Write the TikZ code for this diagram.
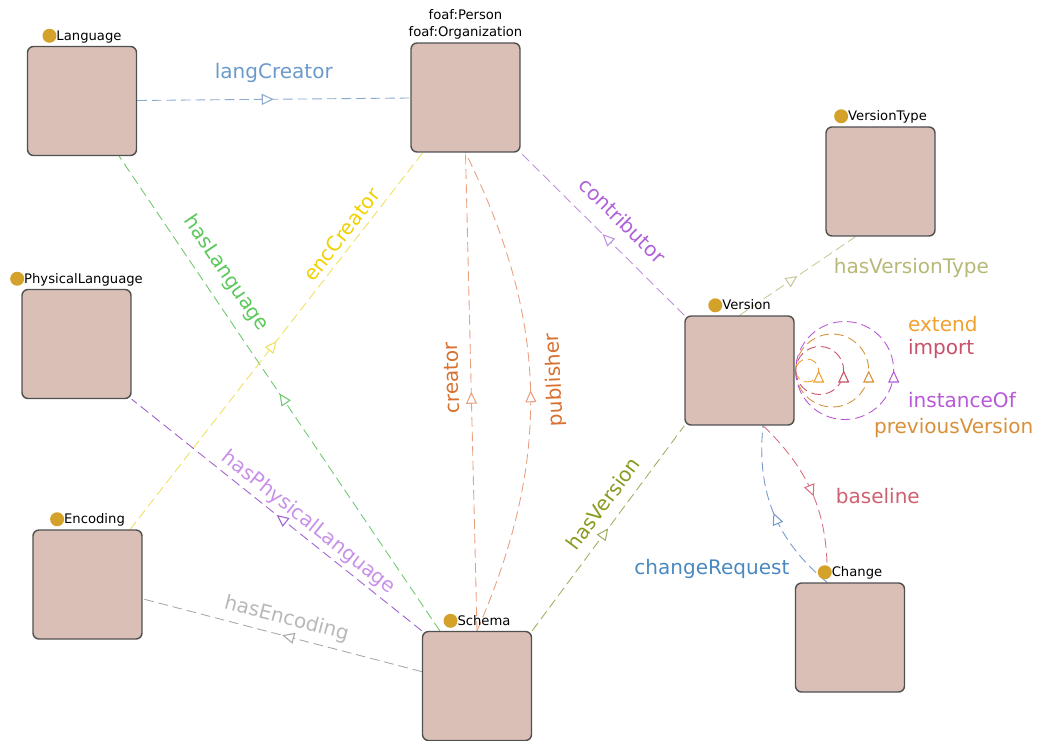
\documentclass[tikz,border=0pt]{standalone}
\usepackage{fontspec}
\setmainfont{DejaVu Sans}
\usepackage{tikz}
\usetikzlibrary{arrows.meta, decorations.markings, calc, positioning, backgrounds}

\definecolor{boxFill}{HTML}{D9BFB5}
\definecolor{boxLine}{HTML}{505050}
\definecolor{dotGold}{HTML}{D4A12A}
\definecolor{lcLine}{HTML}{8AAAD0}
\definecolor{lcText}{HTML}{6A9ACB}
\definecolor{hlLine}{HTML}{70C870}
\definecolor{hlText}{HTML}{5CC85C}
\definecolor{ecLine}{HTML}{F0E060}
\definecolor{ecText}{HTML}{F0D000}
\definecolor{hpLine}{HTML}{A060D0}
\definecolor{hpText}{HTML}{C890E8}
\definecolor{heLine}{HTML}{A8A8A8}
\definecolor{heText}{HTML}{B8B8B8}
\definecolor{crLine}{HTML}{E8A080}
\definecolor{crText}{HTML}{D87030}
\definecolor{coLine}{HTML}{C090E0}
\definecolor{coText}{HTML}{B060D8}
\definecolor{hvLine}{HTML}{A0B060}
\definecolor{hvText}{HTML}{8A9A20}
\definecolor{vtLine}{HTML}{C8C898}
\definecolor{vtText}{HTML}{B8B878}
\definecolor{exColor}{HTML}{F0A030}
\definecolor{imColor}{HTML}{C85068}
\definecolor{pvColor}{HTML}{D8903A}
\definecolor{ioColor}{HTML}{B858D8}
\definecolor{blLine}{HTML}{D87080}
\definecolor{blText}{HTML}{D06070}
\definecolor{rqLine}{HTML}{7898C8}
\definecolor{rqText}{HTML}{4A88C0}

\tikzset{
    classBox/.style={draw=boxLine, fill=boxFill, rounded corners=3.4pt, line width=0.8pt, minimum size=2.18cm, inner sep=0pt},
    classLabel/.style={font=\fontsize{7.5}{9.6}\selectfont, inner sep=1.5pt},
    midTip/.tip={Triangle[fill=white, length=2.4mm, width=2.2mm, line width=0.6pt]},
    propEdge/.style={dash pattern=on 5.5pt off 2.8pt, line width=0.5pt, postaction={decorate}, decoration={markings, mark=at position 0.5 with {\arrow{midTip}}}},
    propLabel/.style={font=\fontsize{11.4}{13}\selectfont, inner sep=1pt},
}
\newcommand{\classDot}{\tikz[baseline=-0.6ex]\fill[dotGold] (0,0) circle (0.14cm);}
\newcommand{\drawProp}[5][]{
    \draw[propEdge, #1] (#2) to node[propLabel, #5] {#4} (#3);
}

\begin{document}
\begin{tikzpicture}[x=0.02cm, y=-0.02cm]
    \useasboundingbox (0,0) rectangle (1043,740);

    % classes
    \node[classBox, label={[classLabel]above:{\classDot Language}}] (lang) at (82,101) {};
    \node[classBox, label={[classLabel, align=center]above:{foaf:Person\\foaf:Organization}}] (foaf) at (465.5,97.5) {};
    \node[classBox, label={[classLabel]above:{\classDot VersionType}}] (vtype) at (880.5,181.5) {};
    \node[classBox, label={[classLabel]above:{\classDot PhysicalLanguage}}] (phys) at (76.5,344) {};
    \node[classBox, label={[classLabel]above:{\classDot Version}}] (version) at (739.5,370.5) {};
    \node[classBox, label={[classLabel]above:{\classDot Encoding}}] (enc) at (87.5,584.5) {};
    \node[classBox, label={[classLabel]above:{\classDot Schema}}] (schema) at (477,686) {};
    \node[classBox, label={[classLabel]above:{\classDot Change}}] (change) at (850,637.5) {};

    \begin{pgfonlayer}{background}
    % properties
    \drawProp[draw=lcLine]{lang}{foaf}{langCreator}{text=lcText, above=0.28cm}
    \drawProp[draw=hlLine]{schema}{lang}{hasLanguage}{text=hlText, pos=0.726, sloped, above=0.22cm}
    \drawProp[draw=ecLine]{enc}{foaf}{encCreator}{text=ecText, pos=0.76, sloped, above=0.08cm}
    \drawProp[draw=hpLine]{schema.north west}{phys.south east}{hasPhysicalLanguage}{text=hpText, pos=0.42, sloped, above=0.04cm}
    \drawProp[draw=heLine]{schema}{enc}{hasEncoding}{text=heText, pos=0.5, sloped, above=0.1cm}
    \drawProp[draw=crLine]{schema.north}{foaf.south}{creator}{text=crText, pos=0.53, sloped, allow upside down, above=0.2cm}
    \drawProp[draw=crLine, bend right=25]{schema.north}{foaf.south}{publisher}{text=crText, pos=0.52, sloped, allow upside down, below=0.26cm}
    \drawProp[draw=coLine]{version.north west}{foaf.south east}{contributor}{text=coText, pos=0.48, sloped, above=0.28cm}
    \drawProp[draw=hvLine]{schema.north east}{version.south west}{hasVersion}{text=hvText, pos=0.565, sloped, above=0.18cm}
    \coordinate (vtEnd) at ($(vtype.south)+(-25,0)$);
    \drawProp[draw=vtLine]{version.north}{vtEnd}{hasVersionType}{text=vtText, pos=0.6, right=0.45cm}

    % version to change
    \coordinate (vBase) at ($(version.south)+(23.5,0)$);
    \coordinate (cBase) at ($(change.north)+(-23,0)$);
    \drawProp[draw=blLine, bend left=24]{vBase}{cBase}{baseline}{text=blText, pos=0.5, right=0.4cm}
    \drawProp[draw=rqLine, bend left=28]{cBase}{vBase}{changeRequest}{text=rqText, pos=0.1, left=0.42cm}

    % self loops
    \coordinate (loopStart) at ($(version.east)+(1,0)$);
    \foreach \r/\c in {11.5/exColor, 24/imColor, 36.5/pvColor, 49/ioColor}
        \draw[propEdge, draw=\c] (loopStart) arc[start angle=180, end angle=-180, radius=\r];
    \end{pgfonlayer}

    \node[propLabel, text=exColor, anchor=west] (extLbl) at (906,324) {extend};
    \node[propLabel, text=imColor, anchor=west] (impLbl) at (906,349) {import};
    \node[propLabel, text=ioColor, anchor=west] (instLbl) at (906,400) {instanceOf};
    \node[propLabel, text=pvColor, anchor=west] (prevLbl) at (872,428) {previousVersion};

\end{tikzpicture}
\end{document}
